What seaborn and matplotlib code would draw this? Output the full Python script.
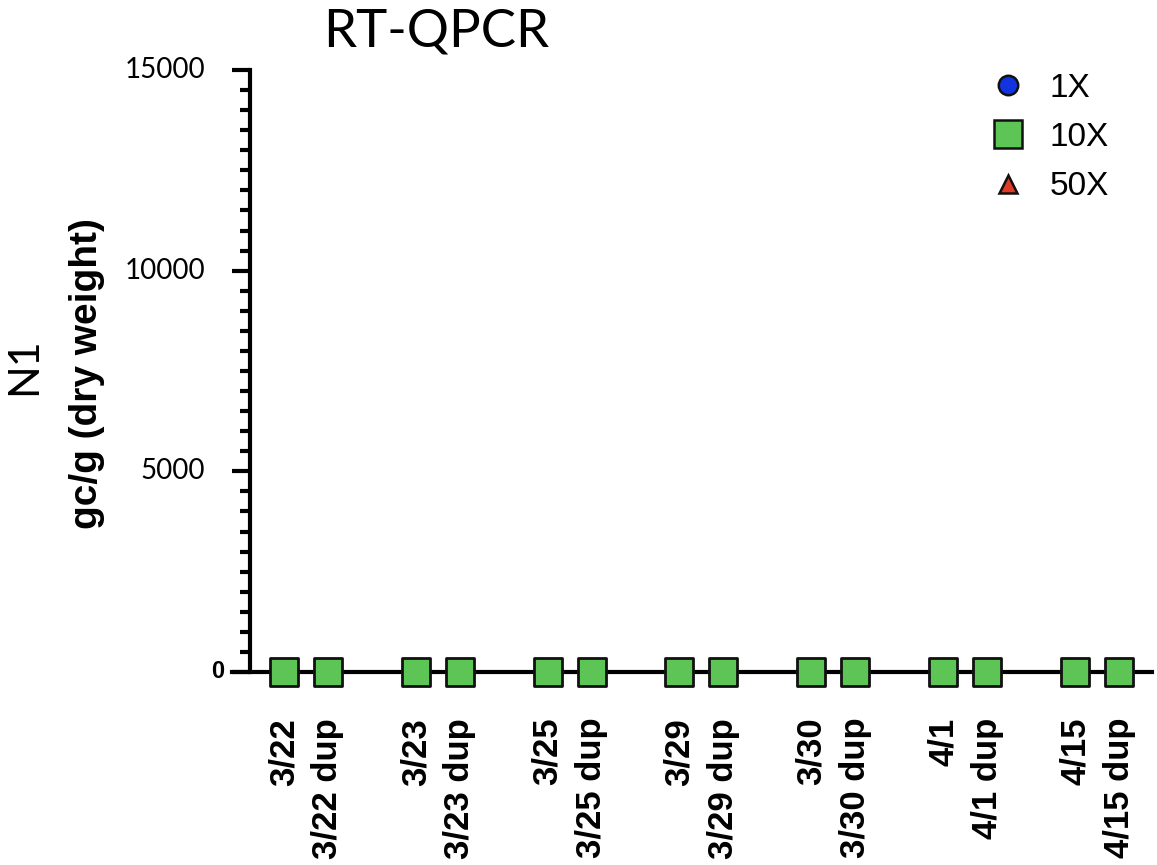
import numpy as np
import pandas as pd
import matplotlib
matplotlib.use("Agg")
import matplotlib.pyplot as plt
import seaborn as sns
from matplotlib.ticker import MultipleLocator, FixedLocator
from matplotlib.lines import Line2D

# ---- data ----
dates = ["3/22", "3/23", "3/25", "3/29", "3/30", "4/1", "4/15"]
samples = ["3/22", "3/22 dup", "3/23", "3/23 dup", "3/25", "3/25 dup",
           "3/29", "3/29 dup", "3/30", "3/30 dup", "4/1", "4/1 dup",
           "4/15", "4/15 dup"]
n1_1x = [0, 0, 0, 0, 0, 0, 0, 0, 0, 0, 0, 0, 0, 0]
n1_10x = [0, 0, 0, 0, 0, 0, 0, 0, 0, 0, 0, 0, 0, 0]
n1_50x = [0, 0, 0, 0, 0, 0, 0, 0, 0, 0, 0, 0, 0, 0]
series = ["1X", "10X", "50X"]
y_ticks = [0, 5000, 10000, 15000]

# positions: pairs with a blank slot between date groups
pos = [(i // 2) * 3 + (i % 2) for i in range(len(samples))]

df = pd.concat([
    pd.DataFrame({"pos": pos, "sample": samples, "value": v, "dilution": s})
    for s, v in zip(series, [n1_1x, n1_10x, n1_50x])
], ignore_index=True)

sns.set_theme(style="white")
plt.rcParams["font.family"] = ["Liberation Sans", "DejaVu Sans"]
plt.rcParams["text.color"] = "black"

fig = plt.figure(figsize=(11.57, 8.65), dpi=100)
ax = fig.add_axes([250 / 1157, 1 - 672 / 865, (1152 - 250) / 1157, (672 - 70) / 865])

palette = {"1X": "#1234e0", "10X": "#5cc555", "50X": "#e23a28"}
markers = {"1X": "o", "10X": "s", "50X": "^"}
sizes = {"1X": 120, "10X": 380, "50X": 100}
# draw 1X and 50X below, 10X on top
for s in ["1X", "50X", "10X"]:
    sub = df[df["dilution"] == s]
    sns.scatterplot(data=sub, x="pos", y="value", ax=ax, color=palette[s],
                    marker=markers[s], s=sizes[s], edgecolor="#111111",
                    linewidth=2.0, zorder=5, clip_on=False, legend=False)

ax.set_xlabel("")
ax.set_ylabel("")
ax.set_xlim(-0.77, 19.75)
ax.set_ylim(0, 15000)

for side in ["top", "right"]:
    ax.spines[side].set_visible(False)
for side in ["left", "bottom"]:
    ax.spines[side].set_linewidth(3.0)
    ax.spines[side].set_color("black")
ax.spines["bottom"].set_bounds(-0.77 - 18 / 43.95, 19.75)

ax.yaxis.set_major_locator(FixedLocator(y_ticks))
ax.yaxis.set_minor_locator(MultipleLocator(500))
ax.tick_params(axis="y", which="major", length=13, width=3, color="black",
               direction="out", left=True, pad=4)
ax.tick_params(axis="y", which="minor", length=7.5, width=3, color="black",
               direction="out", left=True)
ax.set_yticklabels([])
ax.set_xticks(pos)
ax.set_xticklabels([])
ax.tick_params(axis="x", length=0)

# y tick labels
for t in y_ticks:
    if t == 0:
        ax.text(-0.77 - 26 / 43.95, t, "0", ha="right", va="center",
                fontsize=17, fontweight="bold", family="Liberation Sans",
                color="black")
    else:
        ax.text(-0.77 - 45 / 43.95, t, str(t), ha="right", va="center",
                fontsize=20, family="Lato", color="black")

# x tick labels (rotated, staggered like the reference)
for p, lab in zip(pos, samples):
    ax.annotate(lab, xy=(p, 0), xycoords="data", xytext=(0, -33),
                textcoords="offset points", rotation=90, ha="center",
                va="top", fontsize=25, fontweight="bold", color="black",
                family="Liberation Sans", annotation_clip=False)

# axis titles
fig.text(87 / 1157, 1 - 374 / 865, "gc/g (dry weight)", rotation=90,
         ha="center", va="center", fontsize=28, fontweight="bold",
         family="Liberation Sans", color="black")
fig.text(24 / 1157, 1 - 366 / 865, "N1", rotation=90, ha="center",
         va="center", fontsize=31, family="Lato", color="black")
fig.text(436 / 1157, 1 - 32 / 865, "RT-QPCR", ha="center", va="center",
         fontsize=38, family="Lato", color="black")

# legend
msz = {"1X": 14, "10X": 20, "50X": 13}
handles = [Line2D([], [], linestyle="none", marker=markers[s],
                  markersize=msz[s], markerfacecolor=palette[s],
                  markeredgecolor="#111111", markeredgewidth=1.8)
           for s in series]
leg = ax.legend(handles, series, loc="upper left",
                bbox_to_anchor=(975 / 1157, 1 - 56 / 865),
                bbox_transform=fig.transFigure, frameon=False,
                fontsize=24, handletextpad=0.75, labelspacing=0.55,
                handlelength=1.0, borderpad=0)
for txt in leg.get_texts():
    txt.set_color("black")

fig.savefig("out.png", dpi=100)
